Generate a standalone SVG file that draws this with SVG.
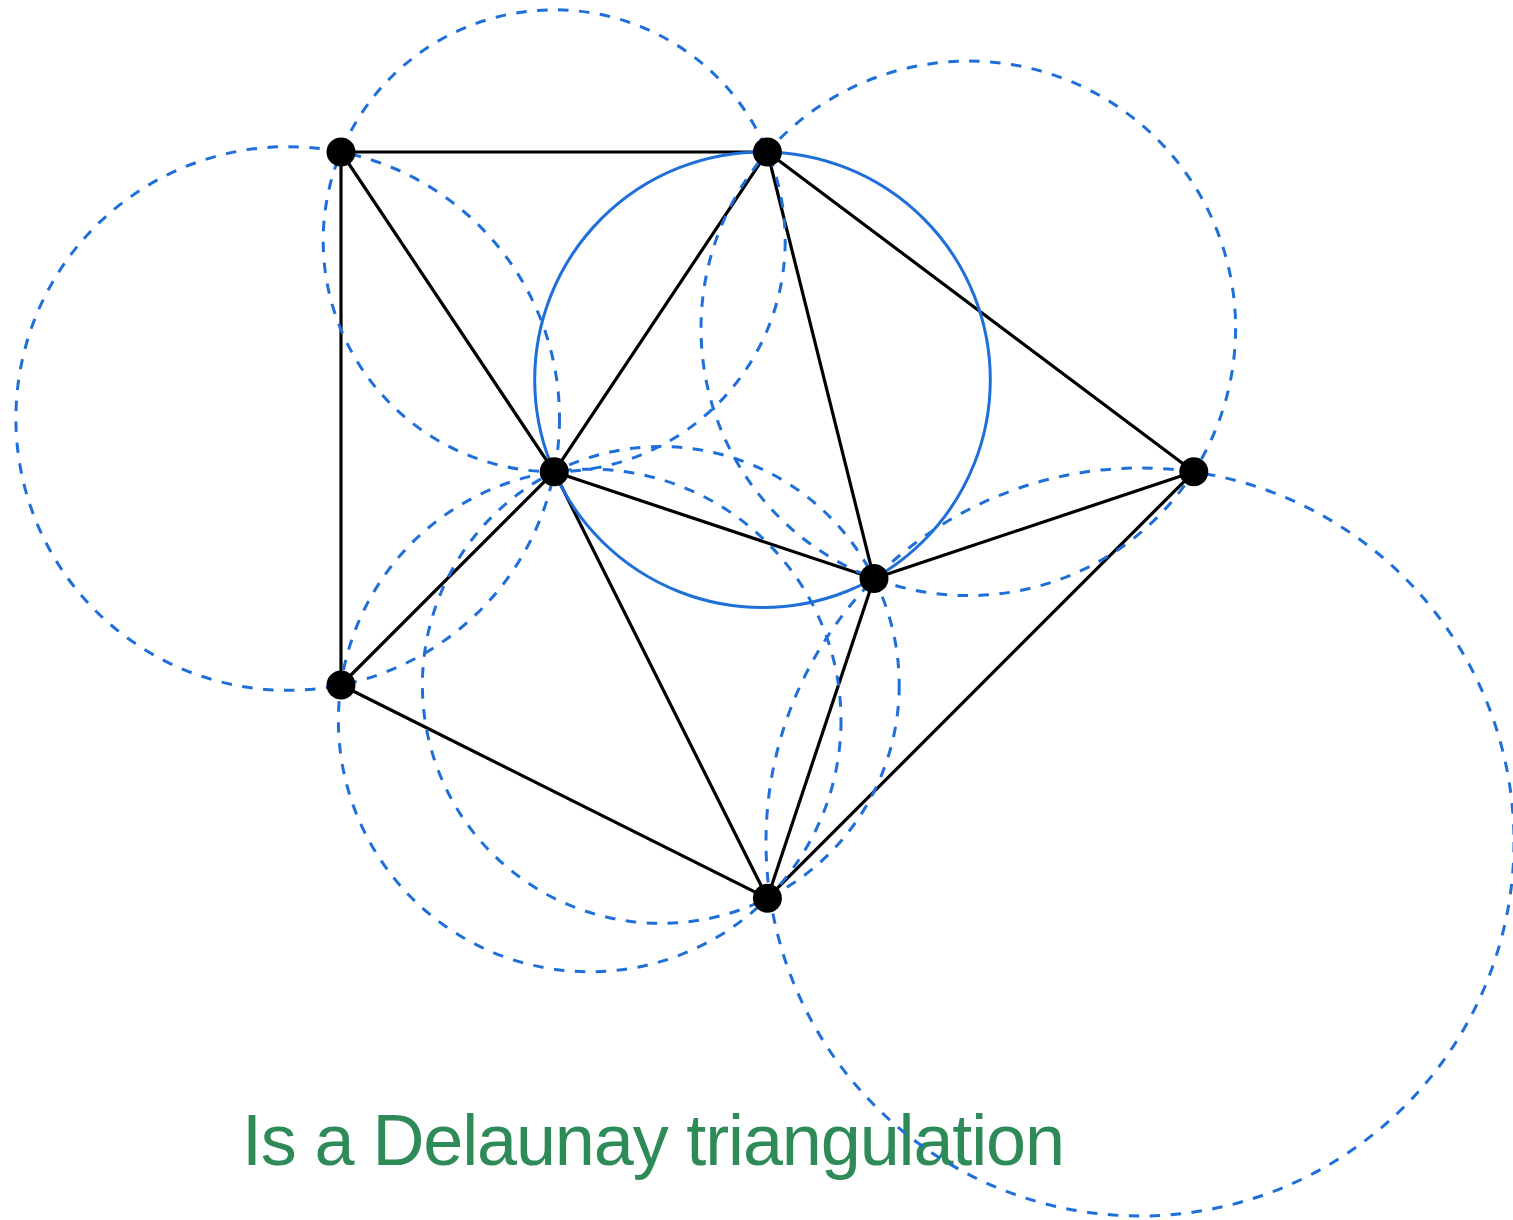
<svg xmlns="http://www.w3.org/2000/svg" width="1513" height="1220" viewBox="0 0 1513 1220">
<style>
.edge{stroke:#000;stroke-width:3.2;fill:none;stroke-linecap:round}
.cc{stroke:#1f6fd9;stroke-width:3;fill:none;stroke-dasharray:10.5 10.5}
.sc{stroke:#1f6fd9;stroke-width:3;fill:none}
.node{fill:#000}
.label{font-family:"Liberation Sans","DejaVu Sans",sans-serif;font-size:72px;fill:#2e8b57}
</style>
<rect width="1513" height="1220" fill="#fff"/>
<text class="label" x="242" y="1165" textLength="823" lengthAdjust="spacing">Is a Delaunay triangulation</text>
<g id="connectors">
<line class="edge" x1="341" y1="152" x2="767.4" y2="152"/>
<line class="edge" x1="341" y1="152" x2="341" y2="685"/>
<line class="edge" x1="341" y1="152" x2="554.2" y2="471.8"/>
<line class="edge" x1="767.4" y1="152" x2="554.2" y2="471.8"/>
<line class="edge" x1="767.4" y1="152" x2="874" y2="578.4"/>
<line class="edge" x1="767.4" y1="152" x2="1193.8" y2="471.8"/>
<line class="edge" x1="554.2" y1="471.8" x2="874" y2="578.4"/>
<line class="edge" x1="554.2" y1="471.8" x2="341" y2="685"/>
<line class="edge" x1="554.2" y1="471.8" x2="767.4" y2="898.2"/>
<line class="edge" x1="874" y1="578.4" x2="1193.8" y2="471.8"/>
<line class="edge" x1="874" y1="578.4" x2="767.4" y2="898.2"/>
<line class="edge" x1="1193.8" y1="471.8" x2="767.4" y2="898.2"/>
<line class="edge" x1="341" y1="685" x2="767.4" y2="898.2"/>
</g>
<g id="circles">
<circle class="cc" cx="554.2" cy="240.8" r="231"/>
<circle class="cc" cx="287.7" cy="418.5" r="271.8"/>
<circle class="cc" cx="968.3" cy="328.3" r="267.3"/>
<circle class="cc" cx="660.8" cy="685" r="238.4"/>
<circle class="cc" cx="589.7" cy="720.5" r="251.3"/>
<circle class="cc" cx="1140" cy="842" r="374"/>
<circle class="sc" cx="762.5" cy="379.7" r="227.8"/>
</g>
<g id="nA"><circle class="node" cx="341" cy="152" r="14.5"/></g>
<g id="nB"><circle class="node" cx="767.4" cy="152" r="14.5"/></g>
<g id="nC"><circle class="node" cx="554.2" cy="471.8" r="14.5"/></g>
<g id="nD"><circle class="node" cx="874" cy="578.4" r="14.5"/></g>
<g id="nE"><circle class="node" cx="1193.8" cy="471.8" r="14.5"/></g>
<g id="nF"><circle class="node" cx="341" cy="685" r="14.5"/></g>
<g id="nG"><circle class="node" cx="767.4" cy="898.2" r="14.5"/></g>
</svg>
